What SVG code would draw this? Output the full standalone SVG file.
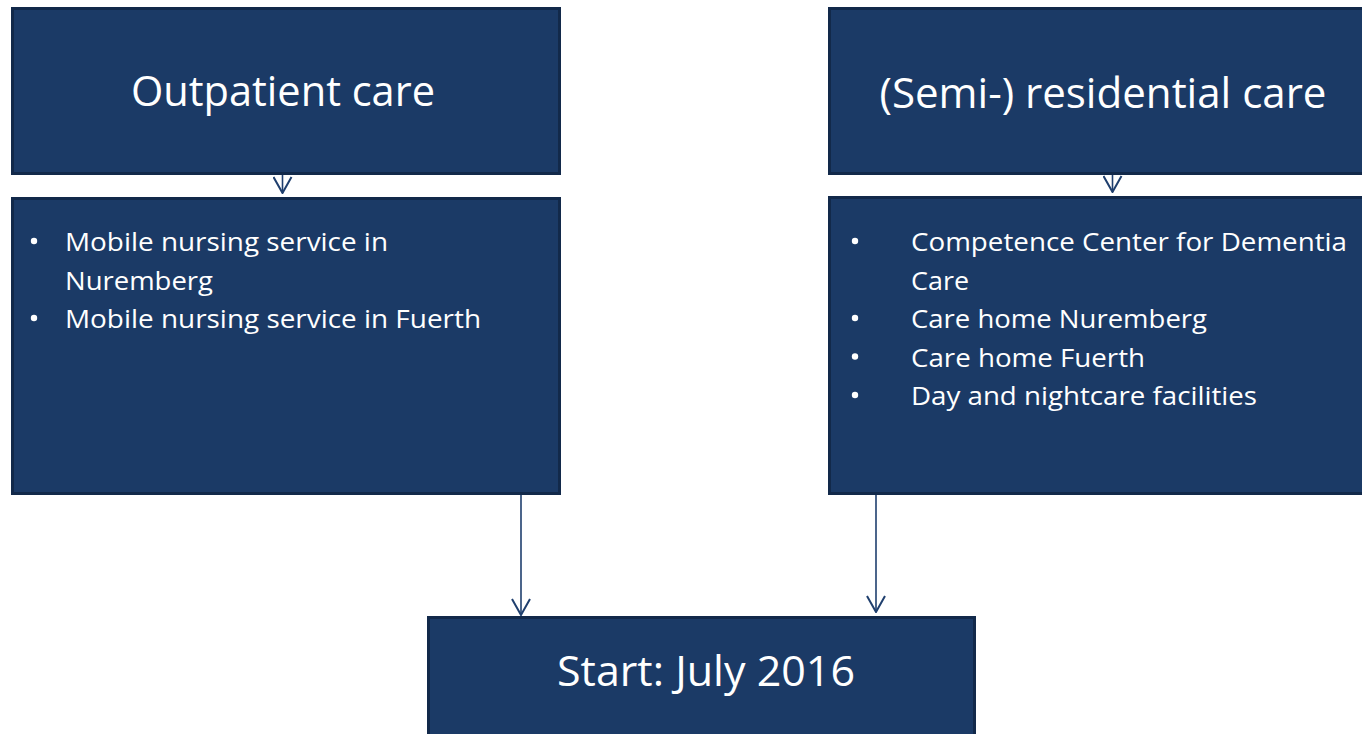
<svg xmlns="http://www.w3.org/2000/svg" width="1362" height="734" viewBox="0 0 1362 734">
  <style>
    .box { fill: #1B3A66; stroke: #12294A; stroke-width: 3; }
    .title { fill: #FFFFFF; font-family: "Open Sans", "DejaVu Sans", sans-serif; font-size: 42px; text-anchor: middle; }
    .item { fill: #FFFFFF; font-family: "Open Sans", "DejaVu Sans", sans-serif; font-size: 26px; }
    .bullet { fill: #FFFFFF; }
    .link { stroke: #1F3F6E; stroke-width: 1.6; fill: none; marker-end: url(#vhead); }
  </style>
  <defs>
    <!-- open V arrowhead, drawn along +x so orient="auto" turns it with the line -->
    <marker id="vhead" viewBox="0 0 18 20" refX="17" refY="10" markerWidth="18" markerHeight="20" markerUnits="userSpaceOnUse" orient="auto">
      <path d="M1,1 L17,10 L1,19" fill="none" stroke="#1F3F6E" stroke-width="2"/>
    </marker>
  </defs>
  <rect width="1362" height="734" fill="#FFFFFF"/>

  <g id="connectors">
    <line class="link" x1="282.5" y1="170" x2="282.5" y2="193"/>
    <line class="link" x1="1112.5" y1="170" x2="1112.5" y2="192"/>
    <line class="link" x1="521" y1="495" x2="521" y2="615"/>
    <line class="link" x1="876" y1="495" x2="876" y2="612"/>
  </g>

  <g id="outpatient">
    <rect class="box" x="12.5" y="8.5" width="547" height="165"/>
    <text class="title" x="283" y="106" textLength="304" lengthAdjust="spacingAndGlyphs">Outpatient care</text>
  </g>

  <g id="outpatient-services">
    <rect class="box" x="12.5" y="198.5" width="547" height="295"/>
    <circle class="bullet" cx="34" cy="241" r="3.2"/>
    <text class="item" x="65" y="251" textLength="323" lengthAdjust="spacingAndGlyphs">Mobile nursing service in</text>
    <text class="item" x="65" y="289.5" textLength="148" lengthAdjust="spacingAndGlyphs">Nuremberg</text>
    <circle class="bullet" cx="34" cy="318" r="3.2"/>
    <text class="item" x="65" y="328" textLength="416" lengthAdjust="spacingAndGlyphs">Mobile nursing service in Fuerth</text>
  </g>

  <g id="residential">
    <rect class="box" x="829.5" y="8.5" width="535" height="165"/>
    <text class="title" x="1103" y="108" textLength="447" lengthAdjust="spacingAndGlyphs">(Semi-) residential care</text>
  </g>

  <g id="residential-services">
    <rect class="box" x="829.5" y="197.5" width="535" height="296"/>
    <circle class="bullet" cx="855" cy="241" r="3.2"/>
    <text class="item" x="911" y="251" textLength="436" lengthAdjust="spacingAndGlyphs">Competence Center for Dementia</text>
    <text class="item" x="911" y="289.5" textLength="58" lengthAdjust="spacingAndGlyphs">Care</text>
    <circle class="bullet" cx="855" cy="318" r="3.2"/>
    <text class="item" x="911" y="328" textLength="296" lengthAdjust="spacingAndGlyphs">Care home Nuremberg</text>
    <circle class="bullet" cx="855" cy="356.5" r="3.2"/>
    <text class="item" x="911" y="366.5" textLength="234" lengthAdjust="spacingAndGlyphs">Care home Fuerth</text>
    <circle class="bullet" cx="855" cy="395" r="3.2"/>
    <text class="item" x="911" y="405" textLength="346" lengthAdjust="spacingAndGlyphs">Day and nightcare facilities</text>
  </g>

  <g id="start">
    <rect class="box" x="428.5" y="617.5" width="546" height="120"/>
    <text class="title" x="706" y="686" textLength="298" lengthAdjust="spacingAndGlyphs">Start: July 2016</text>
  </g>
</svg>
